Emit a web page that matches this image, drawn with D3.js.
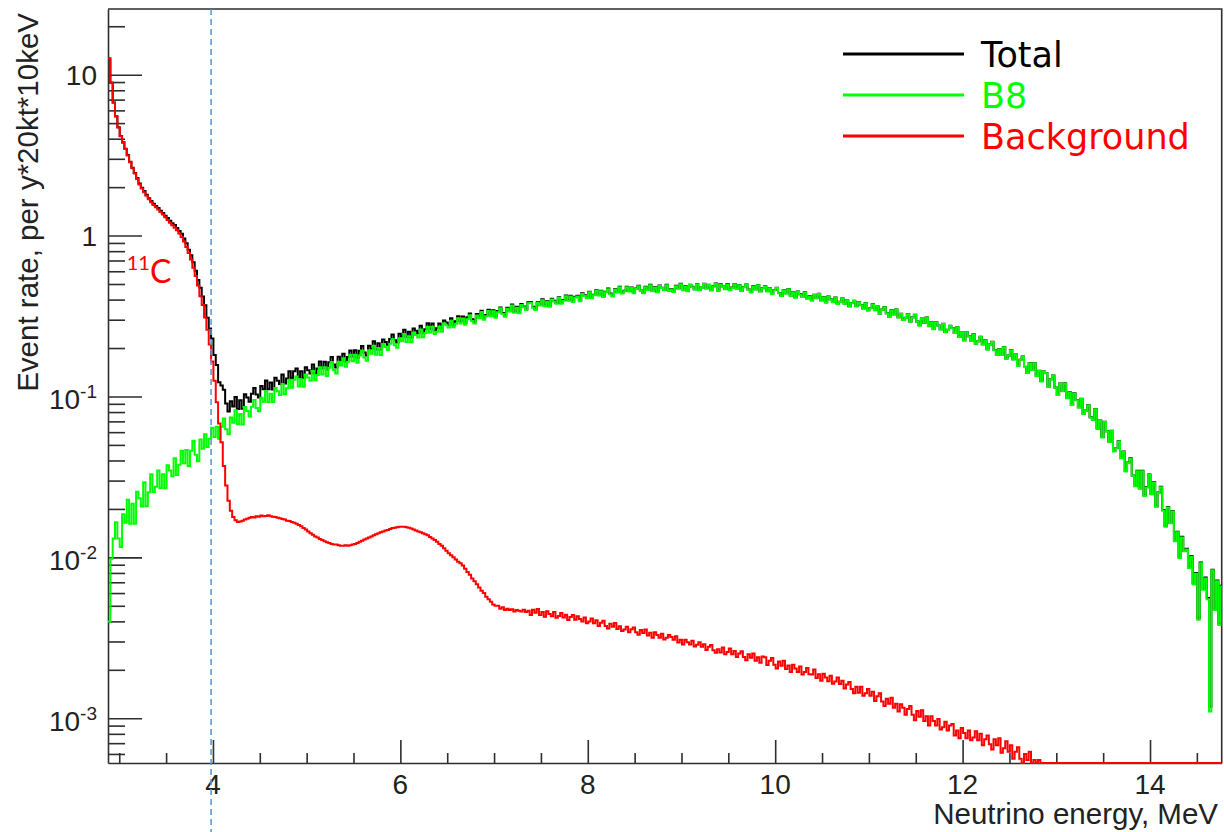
<!DOCTYPE html>
<html>
<head>
<meta charset="utf-8">
<script src="https://cdn.jsdelivr.net/npm/d3@7"></script>
<style>
  body { margin: 0; background: #fff; }
  svg { display: block; }
</style>
</head>
<body>
<svg id="chart" width="1224" height="832"></svg>
<script>
// Histogram binning (MeV): 25 keV bins starting at 2.88 MeV, 20 bins per 0.5 MeV row
const binStart = 2.88;
const binWidth = 0.025;

// Background rate per bin (events per y*20kt*10keV), 11C dominated at low energy
const background = [
  12.6, 8.9, 6.7, 5.5, 4.7, 4.15, 3.78, 3.45, 3.15, 2.86, 2.62, 2.43, 2.25, 2.08, 1.96, 1.86, 1.77, 1.68, 1.61, 1.55,
  1.50, 1.45, 1.40, 1.35, 1.30, 1.25, 1.20, 1.16, 1.12, 1.08, 1.03, 0.98, 0.92, 0.85, 0.78, 0.71, 0.63, 0.56, 0.49, 0.42,
  0.37, 0.31, 0.26, 0.21, 0.165, 0.125, 0.092, 0.068, 0.052, 0.037, 0.028, 0.0225, 0.0195, 0.0178, 0.0170, 0.0166, 0.0167, 0.0169, 0.0172, 0.0174,
  0.0176, 0.0178, 0.0177, 0.0180, 0.0179, 0.0182, 0.0180, 0.0181, 0.0183, 0.0180, 0.0179, 0.0178, 0.0176, 0.0175, 0.0173, 0.0172, 0.0169, 0.0168, 0.0166, 0.0164,
  0.0162, 0.0159, 0.0156, 0.0152, 0.0149, 0.0145, 0.0141, 0.0138, 0.0135, 0.0133, 0.0130, 0.0128, 0.0126, 0.0124, 0.0123, 0.0121, 0.0120, 0.0120, 0.0119, 0.0118,
  0.0118, 0.0119, 0.0118, 0.0119, 0.0120, 0.0121, 0.0123, 0.0125, 0.0127, 0.0129, 0.0131, 0.0133, 0.0135, 0.0137, 0.0139, 0.0141, 0.0143, 0.0145, 0.0147, 0.0148,
  0.0150, 0.0152, 0.0153, 0.0154, 0.0155, 0.0155, 0.0155, 0.0154, 0.0153, 0.0151, 0.0149, 0.0147, 0.0145, 0.0143, 0.0141, 0.0139, 0.0137, 0.0134, 0.0131, 0.0128,
  0.0125, 0.0121, 0.0118, 0.0114, 0.0110, 0.0106, 0.0103, 0.0100, 0.0097, 0.0094, 0.0092, 0.0089, 0.0085, 0.0081, 0.0078, 0.0074, 0.0071, 0.0068, 0.0065, 0.0062,
  0.0060, 0.0057, 0.0055, 0.0053, 0.0051, 0.0050, 0.0050, 0.0048, 0.0049, 0.0047, 0.0048, 0.0047, 0.00475, 0.0046, 0.0047, 0.00465, 0.0046, 0.00472, 0.00458, 0.00466,
  0.00439, 0.00472, 0.00452, 0.00478, 0.00439, 0.00457, 0.00428, 0.00462, 0.00445, 0.00430, 0.00457, 0.00421, 0.00432, 0.00451, 0.00423, 0.00440, 0.00408, 0.00426, 0.00439, 0.00410,
  0.00430, 0.00414, 0.00400, 0.00423, 0.00390, 0.00400, 0.00417, 0.00390, 0.00406, 0.00375, 0.00392, 0.00403, 0.00375, 0.00361, 0.00387, 0.00371, 0.00391, 0.00359, 0.00373, 0.00348,
  0.00356, 0.00370, 0.00342, 0.00358, 0.00367, 0.00342, 0.00330, 0.00353, 0.00339, 0.00356, 0.00327, 0.00340, 0.00317, 0.00342, 0.00329, 0.00317, 0.00335, 0.00309, 0.00316, 0.00329,
  0.00320, 0.00307, 0.00323, 0.00296, 0.00308, 0.00287, 0.00308, 0.00297, 0.00287, 0.00303, 0.00279, 0.00286, 0.00297, 0.00278, 0.00288, 0.00266, 0.00278, 0.00285, 0.00265, 0.00255,
  0.00268, 0.00256, 0.00275, 0.00250, 0.00258, 0.00271, 0.00250, 0.00262, 0.00240, 0.00253, 0.00261, 0.00240, 0.00229, 0.00250, 0.00238, 0.00253, 0.00228, 0.00239, 0.00221, 0.00242,
  0.00239, 0.00214, 0.00228, 0.00237, 0.00215, 0.00204, 0.00225, 0.00212, 0.00228, 0.00202, 0.00213, 0.00194, 0.00215, 0.00204, 0.00194, 0.00210, 0.00187, 0.00194, 0.00205, 0.00188,
  0.00187, 0.00201, 0.00178, 0.00188, 0.00171, 0.00189, 0.00179, 0.00170, 0.00184, 0.00164, 0.00169, 0.00179, 0.00163, 0.00171, 0.00153, 0.00162, 0.00168, 0.00152, 0.00143, 0.00157,
  0.00144, 0.00157, 0.00138, 0.00143, 0.00152, 0.00138, 0.00146, 0.00128, 0.00137, 0.00143, 0.00127, 0.00119, 0.00132, 0.00123, 0.00134, 0.00116, 0.00123, 0.00110, 0.00122, 0.00116,
  0.00105, 0.00114, 0.00119, 0.00105, 0.00097, 0.00111, 0.00102, 0.00112, 0.00096, 0.00103, 0.00090, 0.00103, 0.00096, 0.00090, 0.00099, 0.00085, 0.00088, 0.00095, 0.00084, 0.00090,
  0.00092, 0.00078, 0.00084, 0.00075, 0.00087, 0.00081, 0.00075, 0.00084, 0.00073, 0.00076, 0.00083, 0.00073, 0.00080, 0.00068, 0.00074, 0.00078, 0.00069, 0.00064, 0.00074, 0.00068,
  0.00075, 0.00061, 0.00065, 0.00072, 0.00062, 0.00068, 0.00056, 0.00062, 0.00066, 0.00056, 0.00051, 0.00060, 0.00055, 0.00062, 0.00050, 0.00055, 0.00046, 0.00055, 0.00051, 0.00046,
  0.00047, 0.00042, 0.00045, 0.00040, 0.00044, 0.00039, 0.00042, 0.00038, 0.00041, 0.00036, 0.00039, 0.00035, 0.00038, 0.00034, 0.00036, 0.00033, 0.00035, 0.00031, 0.00034, 0.00030,
  0.00032, 0.00029, 0.00031, 0.00028, 0.00030, 0.00027, 0.00029, 0.00026, 0.00028, 0.00025, 0.00027, 0.00024, 0.00026, 0.00023, 0.00025, 0.00022, 0.00024, 0.00021, 0.00023, 0.00020,
  0.00021, 0.00019, 0.00020, 0.00018, 0.00019, 0.00017, 0.00018, 0.00016, 0.00017, 0.00015, 0.00016, 0.00014, 0.00015, 0.00013, 0.00014, 0.00012, 0.00013, 0.00012, 0.00013, 0.00011,
  0.00012, 0.00011, 0.00011, 0.00010, 0.00010, 0.00009, 0.00010, 0.00009, 0.00009, 0.00008, 0.00008, 0.00008, 0.00007, 0.00007, 0.00007, 0.00006
];

// 8B solar neutrino signal rate per bin
const b8 = [
  0.0040, 0.0098, 0.0131, 0.0165, 0.0131, 0.0116, 0.0185, 0.0164, 0.0228, 0.0162, 0.0215, 0.0162, 0.0256, 0.0233, 0.0207, 0.0293, 0.0208, 0.0254, 0.0328, 0.0255,
  0.0275, 0.0347, 0.0270, 0.0329, 0.0269, 0.0373, 0.0347, 0.0319, 0.0413, 0.0325, 0.0376, 0.0459, 0.0385, 0.0464, 0.0369, 0.0459, 0.0530, 0.0435, 0.0395, 0.0541,
  0.0474, 0.0583, 0.0485, 0.0545, 0.0640, 0.0559, 0.0649, 0.0546, 0.0649, 0.0729, 0.0625, 0.0582, 0.0740, 0.0687, 0.0821, 0.0671, 0.0779, 0.0669, 0.0860, 0.0813,
  0.0750, 0.0862, 0.0951, 0.0848, 0.0808, 0.0980, 0.0928, 0.1076, 0.0924, 0.1041, 0.0925, 0.1127, 0.1076, 0.1022, 0.1197, 0.1032, 0.1124, 0.1268, 0.1133, 0.1269,
  0.1329, 0.1152, 0.1281, 0.1148, 0.1370, 0.1311, 0.1250, 0.1442, 0.1259, 0.1359, 0.1518, 0.1371, 0.1520, 0.1340, 0.1508, 0.1635, 0.1461, 0.1391, 0.1646, 0.1558,
  0.1728, 0.1531, 0.1641, 0.1814, 0.1654, 0.1815, 0.1618, 0.1798, 0.1933, 0.1745, 0.1667, 0.1937, 0.1842, 0.2070, 0.1818, 0.1998, 0.1809, 0.2116, 0.2032, 0.1945,
  0.2125, 0.2275, 0.2083, 0.2007, 0.2300, 0.2202, 0.2445, 0.2180, 0.2371, 0.2172, 0.2500, 0.2413, 0.2324, 0.2605, 0.2336, 0.2482, 0.2712, 0.2496, 0.2709, 0.2445,
  0.2529, 0.2724, 0.2525, 0.2855, 0.2768, 0.2679, 0.2959, 0.2689, 0.2834, 0.3061, 0.2845, 0.3054, 0.2790, 0.3023, 0.3195, 0.2946, 0.2842, 0.3188, 0.3061, 0.3347,
  0.2998, 0.3154, 0.3402, 0.3156, 0.3384, 0.3089, 0.3342, 0.3529, 0.3250, 0.3132, 0.3511, 0.3368, 0.3680, 0.3317, 0.3558, 0.3287, 0.3704, 0.3579, 0.3452, 0.3802,
  0.3820, 0.3560, 0.3452, 0.3807, 0.3675, 0.3969, 0.3632, 0.3860, 0.3610, 0.4001, 0.3887, 0.3771, 0.4100, 0.3771, 0.3936, 0.4199, 0.3936, 0.4177, 0.3861, 0.4129,
  0.4184, 0.3912, 0.4335, 0.4210, 0.4084, 0.4438, 0.4079, 0.4255, 0.4535, 0.4247, 0.4502, 0.4157, 0.4441, 0.4646, 0.4322, 0.4180, 0.4600, 0.4430, 0.4772, 0.4357,
  0.4510, 0.4775, 0.4489, 0.4728, 0.4387, 0.4651, 0.4839, 0.4519, 0.4375, 0.4767, 0.4596, 0.4911, 0.4508, 0.4746, 0.4445, 0.4862, 0.4714, 0.4565, 0.4907, 0.4524,
  0.4606, 0.4455, 0.4848, 0.4670, 0.4986, 0.4574, 0.4812, 0.4503, 0.4925, 0.4772, 0.4618, 0.4961, 0.4572, 0.4732, 0.4997, 0.4685, 0.4923, 0.4558, 0.4822, 0.5007,
  0.4534, 0.4952, 0.4792, 0.4632, 0.4969, 0.4573, 0.4725, 0.4981, 0.4662, 0.4889, 0.4518, 0.4770, 0.4942, 0.4597, 0.4432, 0.4808, 0.4616, 0.4910, 0.4488, 0.4703,
  0.4817, 0.4497, 0.4704, 0.4335, 0.4566, 0.4719, 0.4378, 0.4211, 0.4557, 0.4365, 0.4635, 0.4228, 0.4422, 0.4114, 0.4472, 0.4308, 0.4145, 0.4427, 0.4056, 0.4173,
  0.3944, 0.4265, 0.4083, 0.4330, 0.3945, 0.4123, 0.3832, 0.4162, 0.4006, 0.3851, 0.4108, 0.3759, 0.3864, 0.4051, 0.3772, 0.3936, 0.3618, 0.3801, 0.3920, 0.3628,
  0.3853, 0.3683, 0.3515, 0.3795, 0.3418, 0.3531, 0.3733, 0.3432, 0.3608, 0.3267, 0.3463, 0.3590, 0.3277, 0.3119, 0.3416, 0.3237, 0.3463, 0.3098, 0.3258, 0.2983,
  0.3074, 0.3242, 0.2909, 0.3096, 0.3215, 0.2911, 0.2758, 0.3040, 0.2867, 0.3081, 0.2729, 0.2878, 0.2613, 0.2894, 0.2748, 0.2605, 0.2818, 0.2510, 0.2591, 0.2741,
  0.2652, 0.2480, 0.2689, 0.2342, 0.2488, 0.2227, 0.2503, 0.2359, 0.2218, 0.2426, 0.2123, 0.2200, 0.2344, 0.2104, 0.2227, 0.1960, 0.2096, 0.2178, 0.1937, 0.1812,
  0.1959, 0.1813, 0.2026, 0.1715, 0.1794, 0.1940, 0.1696, 0.1819, 0.1549, 0.1685, 0.1766, 0.1524, 0.1400, 0.1600, 0.1462, 0.1606, 0.1342, 0.1438, 0.1241, 0.1425,
  0.1394, 0.1150, 0.1274, 0.1347, 0.1131, 0.1021, 0.1200, 0.1078, 0.1205, 0.0973, 0.1057, 0.0885, 0.1045, 0.0947, 0.0854, 0.0964, 0.0780, 0.0814, 0.0882, 0.0740,
  0.0716, 0.0833, 0.0629, 0.0706, 0.0556, 0.0694, 0.0606, 0.0523, 0.0609, 0.0455, 0.0476, 0.0524, 0.0413, 0.0452, 0.0342, 0.0386, 0.0410, 0.0321, 0.0277, 0.0343,
  0.0267, 0.0343, 0.0241, 0.0272, 0.0325, 0.0247, 0.0291, 0.0206, 0.0251, 0.0273, 0.0195, 0.0155, 0.0204, 0.0163, 0.0192, 0.0126, 0.0143, 0.0099, 0.0133, 0.0109,
  0.0112, 0.0086, 0.0101, 0.0068, 0.0079, 0.0041, 0.0092, 0.0063, 0.0074, 0.0055, 0.0011, 0.0083, 0.0047, 0.0071, 0.0038, 0.0066
];

// Axis ranges and tick labels
const xDomain = [2.88, 14.765];
const yDomain = [5.27e-4, 25.6];
const xTickValues = [4, 6, 8, 10, 12, 14];
const xTickLabels = ["4", "6", "8", "10", "12", "14"];
const yTickValues = [1e-3, 1e-2, 1e-1, 1, 10];
const yTickBase = ["10", "10", "10", "1", "10"];
const yTickExp = ["-3", "-2", "-1", "", ""];

// Legend entries and colours
const seriesNames = ["Total", "B8", "Background"];
const seriesColors = ["#000000", "#00ff00", "#ff0000"];

// Analysis threshold marker and 11C annotation anchor (MeV, rate)
const thresholdE = 3.98;
const c11Anchor = [3.08, 0.507];

// Total = signal + background
const total = b8.map((v, i) => v + background[i]);

const frame = { left: 108, right: 1221.7, top: 9, bottom: 763 };
const svg = d3.select("#chart");

const x = d3.scaleLinear().domain(xDomain).range([frame.left, frame.right]);
const y = d3.scaleLog().domain(yDomain).range([frame.bottom, frame.top]).clamp(true);

const axisColor = "#2e2e2e";
const labelFont = "'Liberation Sans', Arial, sans-serif";

// Minor tick positions
const xMinor = d3.range(3, xDomain[1], 0.5).filter(v => !xTickValues.includes(v));
const yMinor = [];
for (let e = -4; e <= 1; e++) {
  for (let m = 2; m <= 9; m++) {
    const v = m * Math.pow(10, e);
    if (v >= yDomain[0] && v <= yDomain[1]) yMinor.push(v);
  }
}

// Frame (top and right edges)
svg.append("path")
  .attr("d", `M${frame.left},${frame.top}H${frame.right}V${frame.bottom}`)
  .attr("fill", "none").attr("stroke", axisColor).attr("stroke-width", 1.6);

// X axis
const xAxisG = svg.append("g").attr("transform", `translate(0,${frame.bottom})`);
xAxisG.call(d3.axisBottom(x).tickValues(xTickValues).tickSizeInner(-23).tickSizeOuter(0).tickFormat(""));
xAxisG.append("g").call(d3.axisBottom(x).tickValues(xMinor).tickSizeInner(-10).tickSizeOuter(0).tickFormat(""))
  .select(".domain").remove();
xAxisG.selectAll("path.domain").attr("stroke", axisColor).attr("stroke-width", 1.6);
xAxisG.selectAll(".tick line").attr("stroke", axisColor).attr("stroke-width", 1.6);

// Y axis
const yAxisG = svg.append("g").attr("transform", `translate(${frame.left},0)`);
yAxisG.call(d3.axisLeft(y).tickValues(yTickValues).tickSizeInner(-34).tickSizeOuter(0).tickFormat(""));
yAxisG.append("g").call(d3.axisLeft(y).tickValues(yMinor).tickSizeInner(-17).tickSizeOuter(0).tickFormat(""))
  .select(".domain").remove();
yAxisG.selectAll("path.domain").attr("stroke", axisColor).attr("stroke-width", 1.6);
yAxisG.selectAll(".tick line").attr("stroke", axisColor).attr("stroke-width", 1.6);

// X tick labels
svg.append("g").selectAll("text").data(xTickValues).join("text")
  .attr("x", d => x(d)).attr("y", frame.bottom + 31)
  .attr("text-anchor", "middle")
  .attr("font-family", labelFont).attr("font-size", 28).attr("fill", "#222")
  .text((d, i) => xTickLabels[i]);

// Y tick labels, with superscript exponents
svg.append("g").selectAll("text").data(yTickValues).join("text")
  .attr("x", 97)
  .attr("y", (d, i) => y(d) + (yTickExp[i] ? 13 : 10.5))
  .attr("text-anchor", "end")
  .attr("font-family", labelFont).attr("font-size", 28).attr("fill", "#222")
  .each(function (d, i) {
    const t = d3.select(this);
    t.append("tspan").text(yTickBase[i]);
    if (yTickExp[i]) t.append("tspan").attr("dy", -11).attr("font-size", 19).text(yTickExp[i]);
  });

// Axis titles
svg.append("text")
  .attr("x", 1218).attr("y", 824)
  .attr("text-anchor", "end")
  .attr("font-family", labelFont).attr("font-size", 29.5).attr("fill", "#222")
  .text("Neutrino energy, MeV");

svg.append("text")
  .attr("transform", "translate(38,13) rotate(-90)")
  .attr("text-anchor", "end")
  .attr("font-family", labelFont).attr("font-size", 29.5).attr("fill", "#222")
  .text("Event rate, per y*20kt*10keV");

// Histograms drawn as step lines
svg.append("clipPath").attr("id", "plotClip")
  .append("rect")
  .attr("x", frame.left).attr("y", frame.top)
  .attr("width", frame.right - frame.left).attr("height", frame.bottom - frame.top + 2);

function histPoints(vals) {
  const pts = vals.map((v, i) => [binStart + i * binWidth, v]);
  pts.push([binStart + vals.length * binWidth, vals[vals.length - 1]]);
  return pts;
}
const stepLine = d3.line().x(d => x(d[0])).y(d => y(d[1])).curve(d3.curveStepAfter);

const plotG = svg.append("g").attr("clip-path", "url(#plotClip)");
[total, b8, background].forEach((vals, i) => {
  plotG.append("path")
    .attr("d", stepLine(histPoints(vals)))
    .attr("fill", "none")
    .attr("stroke", seriesColors[i])
    .attr("stroke-width", 2)
    .attr("stroke-linejoin", "miter");
});

// Legend
const legendRows = [54, 95, 136];
const legendBase = [67, 108, 149];
const legendG = svg.append("g");
seriesNames.forEach((name, i) => {
  legendG.append("line")
    .attr("x1", 843).attr("x2", 964)
    .attr("y1", legendRows[i]).attr("y2", legendRows[i])
    .attr("stroke", seriesColors[i]).attr("stroke-width", 3);
  legendG.append("text")
    .attr("x", 981).attr("y", legendBase[i])
    .attr("font-family", "'DejaVu Sans', sans-serif").attr("font-size", 35)
    .attr("fill", seriesColors[i])
    .text(name);
});

// 11C annotation
const c11 = svg.append("text")
  .attr("x", x(c11Anchor[0])).attr("y", y(c11Anchor[1]))
  .attr("font-family", "Lato, 'Open Sans', sans-serif").attr("fill", "#ff0000");
c11.append("tspan").attr("font-size", 20).attr("dy", -13).text("11");
c11.append("tspan").attr("font-size", 32).attr("dy", 13).text("C");

// Threshold marker
svg.append("line")
  .attr("x1", x(thresholdE)).attr("x2", x(thresholdE))
  .attr("y1", frame.top).attr("y2", 832)
  .attr("stroke", "#5b9bd5").attr("stroke-width", 1.6)
  .attr("stroke-dasharray", "6,4");
</script>
</body>
</html>
